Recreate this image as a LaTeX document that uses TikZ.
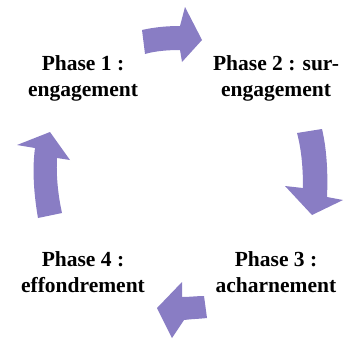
\documentclass[tikz,border=0pt]{standalone}
\usepackage{fontspec}
\setmainfont{Liberation Serif}
\begin{document}
\begin{tikzpicture}[x=1pt,y=-1pt,
  phase/.style={align=center,inner sep=0pt,anchor=base,
    font=\fontsize{21.5}{26}\selectfont\bfseries},
  cyclearrow/.style={fill=arrowpurple,draw=none}]
\definecolor{arrowpurple}{RGB}{137,125,196}
\useasboundingbox (0,0) rectangle (345,338);

% phase labels (anchored on the baseline of the last line)
\node[phase] (p1) at (83,96) {Phase 1 :\\engagement};
\node[phase] (p2) at (276,96) {Phase 2 : sur-\\engagement};
\node[phase] (p3) at (276,292) {Phase 3 :\\acharnement};
\node[phase] (p4) at (83,292) {Phase 4 :\\effondrement};

% curved block arrows of the cycle
\fill[cyclearrow] (142,30) .. controls (155,27) and (168,26) .. (180,26)
  -- (185,7) -- (202,40) -- (182,62) -- (180,50)
  .. controls (168,50) and (155,51) .. (145,54) -- cycle;
\fill[cyclearrow] (297,133) -- (322,129)
  .. controls (327,150) and (328,175) .. (327,197)
  -- (343,200) -- (312,215) -- (285,186) -- (303,188)
  .. controls (303,165) and (301,148) .. (297,133) -- cycle;
\fill[cyclearrow] (204,296) -- (207,318)
  .. controls (198,319) and (191,319) .. (184,320)
  -- (172,338) -- (157,308) -- (182,282) -- (182,297)
  .. controls (190,297) and (197,296) .. (204,296) -- cycle;
\fill[cyclearrow] (38,218) -- (62,213)
  .. controls (58,195) and (56,175) .. (57,158)
  -- (70,160) -- (50,132) -- (17,145) -- (35,148)
  .. controls (32,170) and (34,195) .. (38,218) -- cycle;
\end{tikzpicture}
\end{document}
